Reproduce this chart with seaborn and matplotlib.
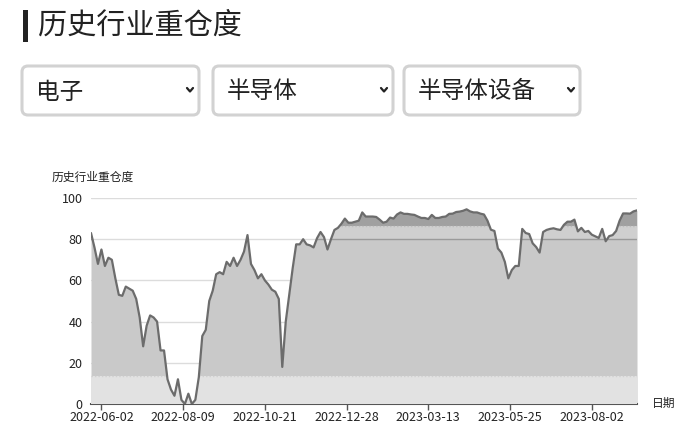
import numpy as np
import pandas as pd
import matplotlib
matplotlib.use("Agg")
import matplotlib.pyplot as plt
import matplotlib.transforms as mtransforms
import seaborn as sns
from matplotlib.patches import FancyBboxPatch, Rectangle
from matplotlib.lines import Line2D

# ---- data ----
title = "历史行业重仓度"
menu_labels = ["电子", "半导体", "半导体设备"]
y_label = "历史行业重仓度"
x_label = "日期"

start_date = "2022-05-25"
end_date = "2023-09-07"
# market holidays + days with no record
closed_days = ["2022-06-03", "2022-09-12", "2022-10-03", "2022-10-04", "2022-10-05",
               "2022-10-06", "2022-10-07", "2022-12-01", "2023-01-02", "2023-01-23",
               "2023-01-24", "2023-01-25", "2023-01-26", "2023-01-27", "2023-04-05",
               "2023-04-28", "2023-05-01", "2023-05-02", "2023-05-03", "2023-05-04",
               "2023-06-22", "2023-06-23"]
tick_dates = ["2022-06-02", "2022-08-09", "2022-10-21", "2022-12-28",
              "2023-03-13", "2023-05-25", "2023-08-02"]

# heaviness value, every second trading day
weight = [83, 76, 68, 75, 67, 71, 70, 61, 53, 52.5, 57, 56, 55, 51, 42, 28, 38, 43, 42, 40,
          26, 26, 12, 7, 4, 12, 2, 0, 5, 0, 2, 13, 33, 36, 50, 55, 63, 64, 63,
          69, 67, 71, 67, 70, 74, 82, 68, 65, 61, 63, 60, 58, 55.5, 54.5, 51, 18, 40, 53, 66,
          77.5, 77.5, 80, 77.5, 77, 76, 80.5, 83.5, 81, 75, 80, 84.5, 85.5, 87.5, 90, 88, 88,
          88.5, 89, 93,
          91, 91, 91, 90.8, 89.5, 88, 88.5, 90.5, 90, 92, 93, 92.3, 92.3, 92, 91.8, 91, 90.3,
          90.3, 89.8, 91.8, 90.3, 90.3, 90.8, 91, 92.3, 92.4, 93.2, 93.4, 93.8, 94.5, 93.5,
          93, 93, 92.4, 92, 89, 84.6, 84, 75.5,
          73.5, 69, 61, 65, 67, 67, 85, 83, 82.5, 78, 76.2, 73.5, 83.5, 84.5, 85, 85.3, 84.8,
          84.5, 87, 88.5, 88.5, 89.5, 83.8, 85.5, 83.5, 84, 82.2, 81.4, 80.6, 85, 79, 81.5,
          82, 84, 89, 92.5, 92.5, 92.4, 93.5, 94]

# ---- build trading-day axis ----
days = pd.bdate_range(start_date, end_date)
days = days[~days.isin(pd.to_datetime(closed_days))]
pos_all = np.arange(len(days))
df = pd.DataFrame({"date": days[::2], "pos": pos_all[::2], "weight": weight})
tick_pos = [int(np.where(days == pd.Timestamp(d))[0][0]) for d in tick_dates]

sns.set_theme(style="white")
plt.rcParams["font.family"] = ["Noto Sans CJK SC", "DejaVu Sans"]

W, H = 700, 428
fig = plt.figure(figsize=(W / 100, H / 100), dpi=100)
fig.patch.set_facecolor("white")
ax = fig.add_axes([91 / W, 1 - 404 / H, 546 / W, 206 / H])

# area under the line, then shaded bands clipped to it
area = ax.fill_between(df["pos"], 0, df["weight"], color="#c9c9c9", lw=0, zorder=2)
clip = area.get_paths()[0]
for lo, hi, c in [(0, 13.5, "#e2e2e2"), (80, 86.5, "#cfcfcf"), (86.5, 100, "#a0a0a0")]:
    band = ax.axhspan(lo, hi, color=c, lw=0, zorder=3)
    band.set_clip_path(clip, ax.transData)
for yv, c, ls in [(13.5, "#d0d0d0", (0, (1, 1.5))), (86.5, "#bcbcbc", (0, (1, 1.5))),
                  (80, "#9a9a9a", "-")]:
    hl = ax.axhline(yv, color=c, lw=1, ls=ls, zorder=4)
    hl.set_clip_path(clip, ax.transData)

sns.lineplot(data=df, x="pos", y="weight", color="#6c6c6c", lw=1.6, ax=ax, zorder=5)

ax.set_xlim(0, len(days) - 1)
ax.set_ylim(0, 100)
ax.set_yticks([0, 20, 40, 60, 80, 100])
ax.yaxis.grid(True, color="#dcdcdc", lw=1)
ax.set_axisbelow(True)
ax.set_xticks(tick_pos)
ax.set_xticklabels(tick_dates)
ax.set_xlabel("")
ax.set_ylabel("")
for s in ["top", "right", "left"]:
    ax.spines[s].set_visible(False)
ax.spines["bottom"].set_color("#555555")
ax.spines["bottom"].set_linewidth(1.5)
ax.tick_params(axis="y", length=0, labelsize=9, labelcolor="#222222", pad=6)
ax.tick_params(axis="x", length=4, width=1, color="#555555", labelsize=9,
               labelcolor="#222222", pad=1, bottom=True)

fig.text(52 / W, 1 - 177 / H, y_label, fontsize=8.5, va="center", ha="left", color="#222222")
fig.text(652 / W, 1 - 403 / H, x_label, fontsize=8.5, va="center", ha="left", color="#222222")

# ---- header ----
fig.add_artist(Rectangle((23 / W, 1 - 42 / H), 5 / W, 32 / H, transform=fig.transFigure,
                         color="#222222", lw=0))
fig.text(38 / W, 1 - 26 / H, title, fontsize=21, va="center", ha="left", color="#222222")

px = mtransforms.IdentityTransform()
boxes = [(20, 201), (211, 395), (402, 582)]
for (x0, x1), lab in zip(boxes, menu_labels):
    y0, y1 = 64, 117
    fig.add_artist(FancyBboxPatch((x0 + 2, H - y1 + 2), x1 - x0 - 4, y1 - y0 - 4,
                                  boxstyle="round,pad=0,rounding_size=6", transform=px,
                                  facecolor="white", edgecolor="#d2d2d2", lw=2.2))
    fig.text((x0 + 16) / W, 1 - 92 / H, lab, fontsize=17, va="center", ha="left",
             color="#222222")
    cx, cy = x1 - 11, H - 90
    fig.add_artist(Line2D([cx - 3, cx, cx + 3], [cy + 2, cy - 1.5, cy + 2], transform=px,
                          color="#222222", lw=1.6))

fig.savefig("out.png", dpi=100)
